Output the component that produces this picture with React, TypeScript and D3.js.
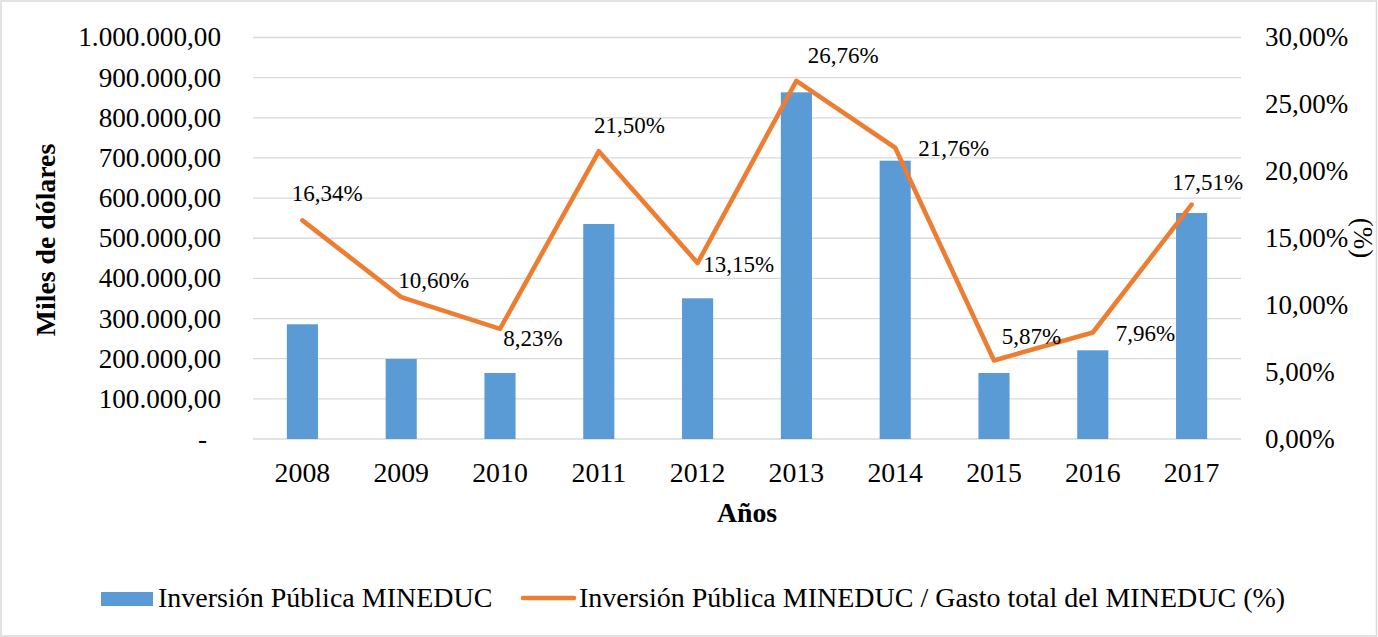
import React from "react";
import * as d3 from "d3";

const years = ["2008", "2009", "2010", "2011", "2012", "2013", "2014", "2015", "2016", "2017"];
const inversion = [285700, 199300, 164400, 535500, 350400, 863500, 693200, 164400, 220900, 562900];
const ratio = [16.34, 10.6, 8.23, 21.5, 13.15, 26.76, 21.76, 5.87, 7.96, 17.51];
const leftTicks = [0, 100000, 200000, 300000, 400000, 500000, 600000, 700000, 800000, 900000, 1000000];
const rightTicks = [0, 5, 10, 15, 20, 25, 30];
const seriesNames = ["Inversión Pública MINEDUC", "Inversión Pública MINEDUC / Gasto total del MINEDUC (%)"];

// label placement offsets (dx, dy) relative to each point, in px
const labelOffsets: [number, number][] = [
  [-10.7, -19.3], [-2.9, -8.8], [3.3, 16.8], [-4.8, -18.6], [5.7, 8.7],
  [11.3, -17.6], [23.1, 8.2], [7.7, -16.4], [22.9, 8.2], [-19.3, -14.7],
];

const W = 1378, H = 637;
const plot = { left: 253, right: 1241, top: 37.5, bottom: 439 };
const FONT = "'Liberation Serif', 'Times New Roman', serif";
const BLUE = "#5B9BD5";
const ORANGE = "#ED7D31";
const GRID = "#d9d9d9";

const fmtThousands = (v: number) => {
  if (v === 0) return "-";
  const s = Math.round(v).toString().replace(/\B(?=(\d{3})+(?!\d))/g, ".");
  return s + ",00";
};
const fmtPct = (v: number) => v.toFixed(2).replace(".", ",") + "%";

export default function App() {
  const x = d3.scaleBand<string>().domain(years).range([plot.left, plot.right]).paddingInner(0).paddingOuter(0);
  const yL = d3.scaleLinear().domain([0, 1000000]).range([plot.bottom, plot.top]);
  const yR = d3.scaleLinear().domain([0, 30]).range([plot.bottom, plot.top]);
  const bw = x.bandwidth() * 0.315;
  const cx = (yr: string) => (x(yr) as number) + x.bandwidth() / 2;

  const line = d3
    .line<number>()
    .x((_, i) => cx(years[i]))
    .y((d) => yR(d));

  return (
    <svg
      width={W}
      height={H}
      style={{ position: "absolute", left: 0, top: 0, background: "#fff" }}
      fontFamily={FONT}
    >
      <rect x={1} y={1} width={W - 2.5} height={H - 2} fill="#fff" stroke={GRID} strokeWidth={1.5} />
      {leftTicks.map((t) => (
        <line key={"g" + t} x1={plot.left} x2={plot.right} y1={yL(t)} y2={yL(t)} stroke={GRID} strokeWidth={1.3} />
      ))}
      {leftTicks.map((t) => (
        <text
          key={"l" + t}
          x={t === 0 ? 207 : 221}
          y={yL(t)}
          dy="0.33em"
          textAnchor="end"
          fontSize={27.2}
          fill="#000"
        >
          {fmtThousands(t)}
        </text>
      ))}
      {rightTicks.map((t) => (
        <text key={"r" + t} x={1265} y={yR(t)} dy="0.33em" textAnchor="start" fontSize={27} fill="#000">
          {fmtPct(t)}
        </text>
      ))}
      {inversion.map((v, i) => (
        <rect key={"b" + i} x={cx(years[i]) - bw / 2} y={yL(v)} width={bw} height={yL(0) - yL(v)} fill={BLUE} />
      ))}
      <path d={line(ratio) || ""} fill="none" stroke={ORANGE} strokeWidth={4.6} strokeLinejoin="round" strokeLinecap="round" />
      {ratio.map((v, i) => (
        <text
          key={"dl" + i}
          x={cx(years[i]) + labelOffsets[i][0]}
          y={yR(v) + labelOffsets[i][1]}
          fontSize={23}
          fill="#000"
        >
          {fmtPct(v)}
        </text>
      ))}
      {years.map((yr) => (
        <text key={"x" + yr} x={cx(yr)} y={482} textAnchor="middle" fontSize={27.8} fill="#000">
          {yr}
        </text>
      ))}
      <text x={(plot.left + plot.right) / 2} y={522} textAnchor="middle" fontSize={27.8} fontWeight="bold" fill="#000">
        Años
      </text>
      <text
        transform={`translate(55, 240) rotate(-90)`}
        textAnchor="middle"
        fontSize={27.8}
        fontWeight="bold"
        fill="#000"
      >
        Miles de dólares
      </text>
      <text
        transform={`translate(1354, 238) rotate(90)`}
        textAnchor="middle"
        fontSize={27}
        fill="#000"
      >
        (%)
      </text>
      <rect x={101} y={592} width={52} height={14} fill={BLUE} />
      <text x={158} y={607} fontSize={28} fill="#000">
        {seriesNames[0]}
      </text>
      <line x1={523} x2={574} y1={598} y2={598} stroke={ORANGE} strokeWidth={4.6} strokeLinecap="round" />
      <text x={579} y={607} fontSize={28} fill="#000">
        {seriesNames[1]}
      </text>
    </svg>
  );
}
